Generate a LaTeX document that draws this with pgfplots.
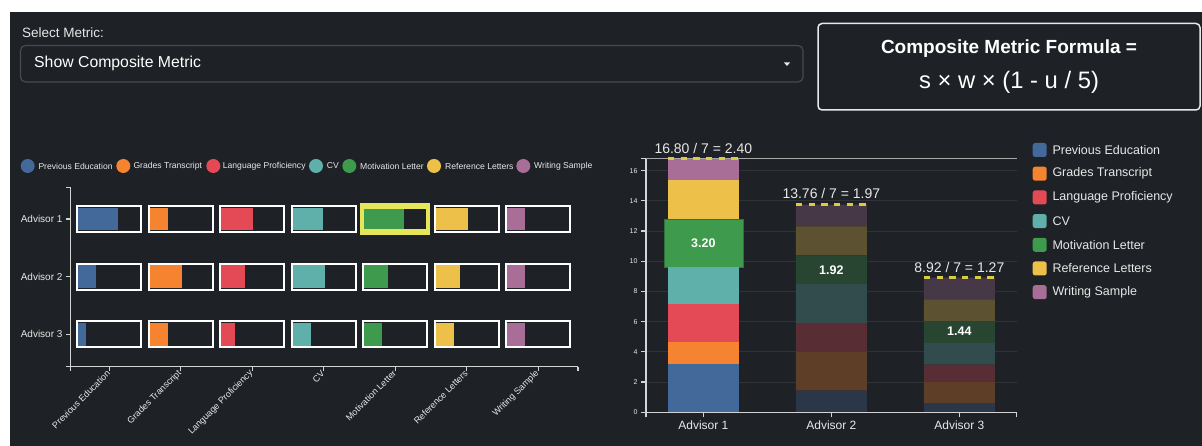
\documentclass[border=0pt]{standalone}
\usepackage{fontspec}
\setmainfont{Liberation Sans}
\usepackage{pgfplots}
\pgfplotsset{compat=1.18}

\definecolor{bgc}{HTML}{1E2125}
\definecolor{cpe}{HTML}{42699A}
\definecolor{cgt}{HTML}{F5832F}
\definecolor{clp}{HTML}{E34A56}
\definecolor{ccv}{HTML}{5FAFAA}
\definecolor{cml}{HTML}{3E9A4C}
\definecolor{crl}{HTML}{EDC04A}
\definecolor{cws}{HTML}{A86E98}
\definecolor{axc}{HTML}{D4D4D4}
\definecolor{txc}{HTML}{E8E8E8}
\definecolor{dashc}{HTML}{D6CE3E}
\definecolor{hlc}{HTML}{E6E65A}
\definecolor{gridc}{HTML}{2F3338}
\definecolor{ddb}{HTML}{474B50}
\newcommand{\fs}[1]{\fontsize{#1}{#1}\selectfont}

\pgfplotsset{
  rc/.style={at={(646pt,33.7pt)}, anchor=south west, x=128pt, y=15.1pt,
    xmin=-0.448, xmax=2.448, ymin=0, ymax=16.8, clip=false},
  eb/.style={only marks, mark=*, mark size=0pt, mark options={draw=none, fill=none}},
}

\begin{document}
\begin{tikzpicture}[x=1pt,y=1pt]
% background
\fill[white] (0,0) rectangle (1202,446);
\fill[bgc] (10,0) rectangle (1202,434);

% top controls
\node[anchor=base west, inner sep=0, text=txc, font=\fs{13.5}] at (22,408) {Select Metric:};
\draw[ddb, line width=1.2pt, rounded corners=5pt] (20.5,400.5) rectangle (803,364);
\node[anchor=west, inner sep=0, text=white, font=\fs{15.8}] at (34,383) {Show Composite Metric};
\fill[txc] (784,383.5) -- (790,383.5) -- (787,380) -- cycle;
\draw[txc, line width=1.5pt, rounded corners=4pt] (818,422.5) rectangle (1200,336);
\node[text=white, font=\bfseries\fs{19}] at (1009,397) {Composite Metric Formula =};
\node[text=white, font=\fs{23.8}] at (1009,364) {s × w × (1 - u / 5)};

% left legend
\foreach \cx/\tx/\col/\lab in {27.7/38.3/cpe/Previous Education, 123.3/133.3/cgt/Grades Transcript, 213.3/222.7/clp/Language Proficiency, 316/326.7/ccv/CV, 349.3/360/cml/Motivation Letter, 434/445/crl/Reference Letters, 523.3/534/cws/Writing Sample}{
  \fill[\col] (\cx,280) circle (7);
  \node[anchor=west, inner sep=0, text=txc, font=\fs{8.6}] at (\tx,280) {\lab};
}

% right legend
\foreach \yy/\col/\lab in {150/cpe/Previous Education, 173.7/cgt/Grades Transcript, 197.4/clp/Language Proficiency, 221.1/ccv/CV, 244.8/cml/Motivation Letter, 268.5/crl/Reference Letters, 292.2/cws/Writing Sample}{
  \fill[\col, rounded corners=2.5pt] (1032.7,446-\yy-7) rectangle (1046.7,446-\yy+7);
  \node[anchor=west, inner sep=0, text=txc, font=\fs{12.5}] at (1052.3,446-\yy) {\lab};
}

% ---------------- left chart ----------------
\begin{axis}[
  at={(70.5pt,79.3pt)}, anchor=south west,
  x=12.435pt, y=57.7pt,
  xmin=-3.12, xmax=37.69, ymin=0.44, ymax=3.542,
  axis x line*=bottom, axis y line*=left,
  axis line style={axc, line width=1.5pt},
  tick style={axc, line width=1.2pt},
  tick align=outside, major tick length=4.5pt,
  xtick={0,5.75,11.5,17.25,23,28.75,34.5},
  xticklabels={Previous Education, Grades Transcript, Language Proficiency, CV, Motivation Letter, Reference Letters, Writing Sample},
  ytick={1,2,3}, yticklabels={Advisor 3, Advisor 2, Advisor 1},
  extra x ticks={-3.12,37.69}, extra x tick labels={},
  extra y ticks={0.44,3.542}, extra y tick labels={},
  xticklabel style={rotate=45, anchor=east, inner sep=1pt, text=txc, font=\fs{9}},
  yticklabel style={text=txc, font=\fs{10}},
  clip=false,
  error bars/x dir=plus, error bars/error mark=none,
]
% white box outlines
\addplot[eb, error bars/x fixed=5.308,
  error bars/error bar style={line width=28pt, draw=white}] table {
x y
-2.654 3
3.096 3
8.846 3
14.596 3
20.346 3
26.096 3
31.846 3
-2.654 2
3.096 2
8.846 2
14.596 2
20.346 2
26.096 2
31.846 2
-2.654 1
3.096 1
8.846 1
14.596 1
20.346 1
26.096 1
31.846 1
};
% dark box interiors
\addplot[eb, error bars/x fixed=5,
  error bars/error bar style={line width=24pt, draw=bgc}] table {
x y
-2.5 3
3.25 3
9 3
14.75 3
20.5 3
26.25 3
32 3
-2.5 2
3.25 2
9 2
14.75 2
20.5 2
26.25 2
32 2
-2.5 1
3.25 1
9 1
14.75 1
20.5 1
26.25 1
32 1
};
% highlighted cell (Advisor 1, Motivation Letter)
\addplot[eb, error bars/x fixed=5.63,
  error bars/error bar style={line width=32pt, draw=hlc}] coordinates {(20.185,3)};
\addplot[eb, error bars/x fixed=5,
  error bars/error bar style={line width=20pt, draw=bgc}] coordinates {(20.5,3)};
% fills
\addplot[eb, error bars/x explicit,
  error bars/error bar style={line width=22.5pt, draw=cpe}] table[x=x, y=y, x error=v] {
x y v
-2.5 3 3.20
-2.5 2 1.44
-2.5 1 0.60
};
\addplot[eb, error bars/x explicit,
  error bars/error bar style={line width=22.5pt, draw=cgt}] table[x=x, y=y, x error=v] {
x y v
3.25 3 1.44
3.25 2 2.56
3.25 1 1.44
};
\addplot[eb, error bars/x explicit,
  error bars/error bar style={line width=22.5pt, draw=clp}] table[x=x, y=y, x error=v] {
x y v
9 3 2.56
9 2 1.92
9 1 1.12
};
\addplot[eb, error bars/x explicit,
  error bars/error bar style={line width=22.5pt, draw=ccv}] table[x=x, y=y, x error=v] {
x y v
14.75 3 2.40
14.75 2 2.56
14.75 1 1.44
};
\addplot[eb, error bars/x explicit,
  error bars/error bar style={line width=20pt, draw=cml}] table[x=x, y=y, x error=v] {
x y v
20.5 3 3.20
};
\addplot[eb, error bars/x explicit,
  error bars/error bar style={line width=22.5pt, draw=cml}] table[x=x, y=y, x error=v] {
x y v
20.5 2 1.92
20.5 1 1.44
};
\addplot[eb, error bars/x explicit,
  error bars/error bar style={line width=22.5pt, draw=crl}] table[x=x, y=y, x error=v] {
x y v
26.25 3 2.56
26.25 2 1.92
26.25 1 1.44
};
\addplot[eb, error bars/x explicit,
  error bars/error bar style={line width=22.5pt, draw=cws}] table[x=x, y=y, x error=v] {
x y v
32 3 1.44
32 2 1.44
32 1 1.44
};
\end{axis}

% ---------------- right chart ----------------
% grid
\begin{axis}[rc, axis line style={draw=none}, xtick=\empty, ytick={2,4,...,16},
  yticklabels={}, major tick length=0pt, ymajorgrids, grid style={gridc, line width=0.8pt}]
\addplot[draw=none] coordinates {(0,0)};
\end{axis}
% Advisor 1
\begin{axis}[rc, hide axis, ybar stacked, bar width=71pt]
\addplot[fill=cpe, draw=none] coordinates {(0,3.20)};
\addplot[fill=cgt, draw=none] coordinates {(0,1.44)};
\addplot[fill=clp, draw=none] coordinates {(0,2.56)};
\addplot[fill=ccv, draw=none] coordinates {(0,2.40)};
\addplot[fill=cml, draw=black!25!cml, line width=0.6pt, bar width=79pt] coordinates {(0,3.20)};
\addplot[fill=crl, draw=none] coordinates {(0,2.56)};
\addplot[fill=cws, draw=none] coordinates {(0,1.44)};
\end{axis}
% Advisors 2 and 3 (dimmed)
\begin{axis}[rc, hide axis, ybar stacked, bar width=71pt]
\addplot[fill=cpe!30!bgc, draw=none] coordinates {(1,1.44) (2,0.60)};
\addplot[fill=cgt!30!bgc, draw=none] coordinates {(1,2.56) (2,1.44)};
\addplot[fill=clp!30!bgc, draw=none] coordinates {(1,1.92) (2,1.12)};
\addplot[fill=ccv!30!bgc, draw=none] coordinates {(1,2.56) (2,1.44)};
\addplot[fill=cml!30!bgc, draw=none] coordinates {(1,1.92) (2,1.44)};
\addplot[fill=crl!30!bgc, draw=none] coordinates {(1,1.92) (2,1.44)};
\addplot[fill=cws!30!bgc, draw=none] coordinates {(1,1.44) (2,1.44)};
\end{axis}
% axes, top line, dashed totals, labels
\begin{axis}[rc,
  axis x line*=bottom, axis y line*=left,
  axis line style={axc, line width=1.5pt},
  tick style={axc, line width=1.2pt}, tick align=outside, major tick length=5pt,
  xtick={0,1,2}, xticklabels={Advisor 1, Advisor 2, Advisor 3},
  ytick={0,2,...,16},
  extra x ticks={-0.448,2.448}, extra x tick labels={},
  extra y ticks={16.8}, extra y tick labels={},
  xticklabel style={text=txc, font=\fs{12}},
  yticklabel style={text=txc, font=\fs{7}},
  /pgf/number format/assume math mode=true]
\addplot[axc!75!bgc, line width=1.3pt] coordinates {(-0.448,16.8) (2.448,16.8)};
\addplot[dashc, line width=3pt, dash pattern=on 6.5pt off 6.2pt] coordinates {(-0.277,16.8) (0.277,16.8)};
\addplot[dashc, line width=3pt, dash pattern=on 6.5pt off 6.2pt] coordinates {(0.723,13.76) (1.277,13.76)};
\addplot[dashc, line width=3pt, dash pattern=on 6.5pt off 6.2pt] coordinates {(1.723,8.92) (2.277,8.92)};
\node[text=txc, font=\fs{14}, inner sep=0] at (axis cs:0,17.5) {16.80 / 7 = 2.40};
\node[text=txc, font=\fs{14}, inner sep=0] at (axis cs:1,14.46) {13.76 / 7 = 1.97};
\node[text=txc, font=\fs{14}, inner sep=0] at (axis cs:2,9.62) {8.92 / 7 = 1.27};
\node[text=white, font=\bfseries\fs{12.5}, inner sep=0] at (axis cs:0,11.2) {3.20};
\node[text=white, font=\bfseries\fs{12.5}, inner sep=0] at (axis cs:1,9.44) {1.92};
\node[text=white, font=\bfseries\fs{12.5}, inner sep=0] at (axis cs:2,5.36) {1.44};
\end{axis}
\end{tikzpicture}
\end{document}
